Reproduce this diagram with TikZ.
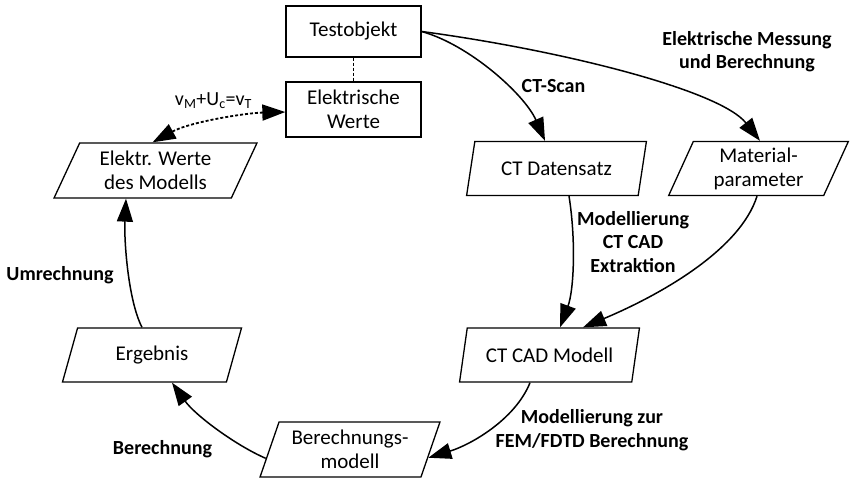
\documentclass[tikz,border=0pt]{standalone}
\usepackage{fontspec}
\setmainfont{Carlito}
\usetikzlibrary{shapes.geometric,arrows.meta}
\begin{document}
\begin{tikzpicture}[x=1pt,y=-1pt,
  txt/.style={font=\fontsize{21}{24}\selectfont},
  lbl/.style={font=\fontsize{20}{23.5}\selectfont\bfseries, align=center, inner sep=0pt},
  box/.style={txt, draw, line width=1.3pt, minimum width=135pt, align=center, inner sep=0pt},
  para/.style={txt, draw, trapezium, trapezium left angle=#1, trapezium right angle=180-#1,
    trapezium stretches=true, minimum width=180pt, minimum height=54pt, line width=1.3pt, align=center, inner sep=0pt},
  para/.default=68,
  arr/.style={line width=1.5pt, -{Triangle[length=23pt,width=16pt]}},
  dotline/.style={line width=1.8pt, dash pattern=on 3pt off 2pt}
]
\useasboundingbox (0,0) rectangle (850,488);

\node[box, minimum height=51pt] (T) at (353.5,31.5) {Testobjekt};
\node[box, minimum height=55pt] (EW) at (353.5,109.5) {Elektrische\\Werte};
\node[para=64, minimum width=203pt, minimum height=55pt] (EWM) at (155.5,170.5) {Elektr. Werte\\des Modells};
\node[para] (CTD) at (556.5,168.5) {CT Datensatz};
\node[para] (MP) at (758.5,168.5) {Material-\\parameter};
\node[para] (CAD) at (549.5,355) {CT CAD Modell};
\node[para] (ERG) at (152,355) {Ergebnis};
\node[para, minimum height=55pt] (BM) at (350,449.5) {Berechnungs-\\modell};

% connectors
\draw[dotline] (T.south) -- (EW.north);
\draw[dotline, {Triangle[length=23pt,width=16pt]}-{Triangle[length=23pt,width=16pt]}]
  ([xshift=-3pt]EWM.north) .. controls (190,122) and (245,113) .. ([yshift=-2.5pt]EW.west);

\draw[arr] (T.east) .. controls (470,45) and (525,95) .. ([xshift=-11.5pt]CTD.north);
\draw[arr] (T.east) .. controls (560,50) and (720,90) .. ([xshift=1.5pt]MP.north);
\draw[arr] ([xshift=12.5pt]CTD.south) .. controls (576,240) and (574,290) .. ([xshift=10.5pt]CAD.north);
\draw[arr] ([xshift=-1.5pt]MP.south) .. controls (740,250) and (660,295) .. ([xshift=33.5pt]CAD.north);
\draw[arr] ([xshift=-19.5pt]CAD.south) .. controls (515,420) and (470,445) .. (BM.-6);
\draw[arr] (BM.186) .. controls (235,445) and (195,415) .. ([xshift=20pt]ERG.south);
\draw[arr] ([xshift=-10pt]ERG.north) .. controls (128,300) and (124,240) .. ([xshift=-29.5pt]EWM.south);

% labels
\node[font=\fontsize{20}{24}\selectfont, inner sep=0pt] (eq) at (213.5,101) {v\textsubscript{M}+U\textsubscript{c}=v\textsubscript{T}};
\node[lbl] (l1) at (553.5,86) {CT-Scan};
\node[lbl] (l2) at (747,51.5) {Elektrische Messung\\und Berechnung};
\node[lbl] (l3) at (633,242) {Modellierung\\CT CAD\\Extraktion};
\node[lbl] (l4) at (60,275) {Umrechnung};
\node[lbl] (l5) at (162.5,449) {Berechnung};
\node[lbl] (l6) at (592,430) {Modellierung zur\\FEM/FDTD Berechnung};
\end{tikzpicture}
\end{document}
